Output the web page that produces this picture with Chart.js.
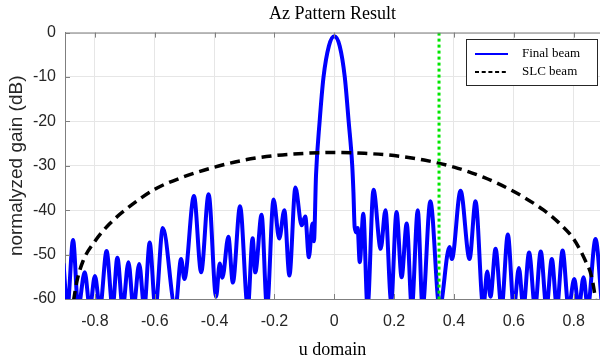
<!DOCTYPE html>
<html lang="en">
<head>
<meta charset="UTF-8">
<title>Az Pattern Result</title>
<script src="https://cdn.jsdelivr.net/npm/chart.js"></script>
<style>
  html, body { margin: 0; padding: 0; background: #fff; }
</style>
</head>
<body>
<canvas id="azChart" width="600" height="363"></canvas>
<script>
// Final beam: peaks and nulls (deep nulls sit just under -60 and get clipped)
const finalU = [
  -0.905, -0.892, -0.873, -0.856, -0.834, -0.817, -0.800, -0.783, -0.761, -0.741,
  -0.725, -0.707, -0.688, -0.671, -0.652, -0.635, -0.617, -0.598, -0.573, -0.531,
  -0.512, -0.501, -0.469, -0.445, -0.420, -0.395, -0.383, -0.374, -0.354, -0.339,
  -0.315, -0.289, -0.273, -0.264, -0.243, -0.225, -0.203, -0.184, -0.167, -0.150,
  -0.130, -0.109, -0.097, -0.085, -0.073, -0.068, -0.061, -0.049, -0.036, -0.018,
  0, 0.018, 0.035, 0.048, 0.060, 0.064, 0.068, 0.074, 0.078, 0.085,
  0.097, 0.111, 0.131, 0.155, 0.171, 0.190, 0.208, 0.225, 0.242, 0.259,
  0.279, 0.295, 0.321, 0.352, 0.385, 0.393, 0.422, 0.452, 0.472, 0.498,
  0.511, 0.522, 0.539, 0.559, 0.580, 0.600, 0.617, 0.632, 0.651, 0.671,
  0.690, 0.709, 0.727, 0.744, 0.763, 0.783, 0.802, 0.817, 0.833, 0.847,
  0.873, 0.895
];
const finalDb = [
  -52, -62, -46.7, -62, -54, -62, -54.8, -62, -49.2, -62,
  -50.7, -62, -51.7, -62, -52.1, -62, -47.3, -62, -44, -62,
  -51, -55.5, -36.8, -54, -36.4, -59.5, -52, -55.2, -46, -56.3,
  -39.1, -62, -46.3, -54, -41, -62, -37.6, -46.4, -40, -54.7,
  -34.9, -43.4, -41.4, -50.6, -43, -47, -32, -20, -10, -3,
  -0.8, -3, -10, -20, -30, -36, -43.8, -45, -44, -51.7,
  -40.8, -62, -35.4, -48.7, -40, -60.5, -40.4, -55.1, -43, -62,
  -40, -62, -38, -62, -48.3, -51, -35.6, -51, -38, -62,
  -53.8, -59.5, -48.7, -62, -45.5, -62, -53, -62, -49.5, -62,
  -49.3, -62, -51, -62, -49.1, -62, -55.5, -62, -55.1, -62,
  -46.5, -62
];

// SLC beam (dashed)
const slcU = [-0.880, -0.860, -0.840, -0.800, -0.750, -0.700, -0.600, -0.500, -0.400, -0.300,
  -0.200, -0.100, 0, 0.100, 0.200, 0.300, 0.400, 0.500, 0.600, 0.700,
  0.750, 0.800, 0.840, 0.860, 0.880];
const slcDb = [-64, -56, -51.5, -47, -43, -40, -35.3, -32.4, -30.3, -28.7,
  -27.7, -27.2, -27, -27.2, -27.7, -28.7, -30.3, -32.6, -35.8, -40,
  -42.8, -46.5, -51.5, -55, -63];

// green marker line
const markerU = 0.35;
const markerDb = [0, -60];

const xTicks = [-0.8, -0.6, -0.4, -0.2, 0, 0.2, 0.4, 0.6, 0.8];
const yTicks = [0, -10, -20, -30, -40, -50, -60];

const toPoints = (xs, ys) => xs.map((x, i) => ({ x: x, y: ys[i] }));

const sans = "'Liberation Sans', Arial, sans-serif";
const serif = "'Liberation Serif', 'Times New Roman', serif";
const tickFont = { family: sans, size: 16 };

// inward tick marks on the top/bottom/left edges plus the top box line
const boxPlugin = {
  id: 'boxTicks',
  afterDatasetsDraw(chart) {
    const { ctx, chartArea: a, scales: { x, y } } = chart;
    ctx.save();
    ctx.strokeStyle = '#7f7f7f';
    ctx.lineWidth = 1;
    ctx.beginPath();
    ctx.moveTo(a.left, a.top + 0.5);
    ctx.lineTo(a.right, a.top + 0.5);
    xTicks.forEach(v => {
      const px = Math.round(x.getPixelForValue(v)) + 0.5;
      ctx.moveTo(px, a.top);
      ctx.lineTo(px, a.top + 5);
      ctx.moveTo(px, a.bottom);
      ctx.lineTo(px, a.bottom - 5);
    });
    yTicks.forEach(v => {
      const py = Math.round(y.getPixelForValue(v)) + 0.5;
      ctx.moveTo(a.left, py);
      ctx.lineTo(a.left + 5, py);
    });
    ctx.stroke();
    ctx.restore();
  }
};

// legend box drawn inside the plot, top right
const legendPlugin = {
  id: 'insideLegend',
  afterDraw(chart) {
    const ctx = chart.ctx;
    const items = [chart.data.datasets[2], chart.data.datasets[1]];
    ctx.save();
    ctx.fillStyle = '#fff';
    ctx.fillRect(466, 39, 131, 46);
    ctx.strokeStyle = '#262626';
    ctx.lineWidth = 1;
    ctx.strokeRect(466.5, 39.5, 131, 46);
    items.forEach((ds, i) => {
      const yy = 54 + i * 18;
      ctx.beginPath();
      ctx.strokeStyle = ds.borderColor;
      ctx.lineWidth = 2;
      ctx.setLineDash(i === 0 ? [] : [4, 2.7]);
      ctx.moveTo(475, yy);
      ctx.lineTo(508, yy);
      ctx.stroke();
      ctx.setLineDash([]);
      ctx.fillStyle = '#000';
      ctx.font = '13px ' + serif;
      ctx.textBaseline = 'middle';
      ctx.fillText(ds.label, 522, yy);
    });
    ctx.restore();
  }
};

new Chart(document.getElementById('azChart'), {
  type: 'scatter',
  data: {
    datasets: [
      {
        label: 'marker',
        data: toPoints([markerU, markerU], markerDb),
        showLine: true,
        borderColor: '#00e600',
        borderWidth: 3,
        borderDash: [3, 3],
        pointRadius: 0,
        clip: 0
      },
      {
        label: 'SLC beam',
        data: toPoints(slcU, slcDb),
        showLine: true,
        borderColor: '#000000',
        borderWidth: 3.5,
        borderDash: [10, 6],
        cubicInterpolationMode: 'monotone',
        pointRadius: 0,
        clip: 0
      },
      {
        label: 'Final beam',
        data: toPoints(finalU, finalDb),
        showLine: true,
        borderColor: '#0000ff',
        borderWidth: 4,
        cubicInterpolationMode: 'monotone',
        pointRadius: 0,
        clip: 0
      }
    ]
  },
  options: {
    responsive: false,
    animation: false,
    devicePixelRatio: 1,
    layout: { padding: 0 },
    plugins: {
      legend: { display: false },
      tooltip: { enabled: false },
      title: {
        display: true,
        fullSize: false,
        text: 'Az Pattern Result',
        color: '#000',
        font: { family: serif, size: 18, weight: 'normal' },
        padding: { top: 3, bottom: 8 }
      }
    },
    scales: {
      x: {
        type: 'linear',
        min: -0.9,
        max: 0.888,
        afterBuildTicks: s => { s.ticks = xTicks.map(v => ({ value: v })); },
        afterFit: s => { s.height = 64; },
        ticks: {
          color: '#262626',
          font: tickFont,
          padding: 13,
          callback: v => (v === 0 ? '0' : v.toFixed(1))
        },
        grid: { color: '#e6e6e6', drawTicks: false },
        border: { color: '#7f7f7f' },
        title: {
          display: true,
          text: 'u domain',
          color: '#000',
          font: { family: serif, size: 18 },
          padding: { top: 0, bottom: 2 }
        }
      },
      y: {
        min: -60,
        max: 0,
        afterBuildTicks: s => { s.ticks = yTicks.map(v => ({ value: v })); },
        afterFit: s => { s.width = 65; },
        ticks: { color: '#262626', font: tickFont, padding: 9 },
        grid: { color: '#e6e6e6', drawTicks: false },
        border: { color: '#7f7f7f' },
        title: {
          display: true,
          text: 'normalyzed gain (dB)',
          color: '#262626',
          font: { family: sans, size: 19 },
          padding: { top: 5, bottom: 0 }
        }
      }
    }
  },
  plugins: [boxPlugin, legendPlugin]
});
</script>
</body>
</html>
